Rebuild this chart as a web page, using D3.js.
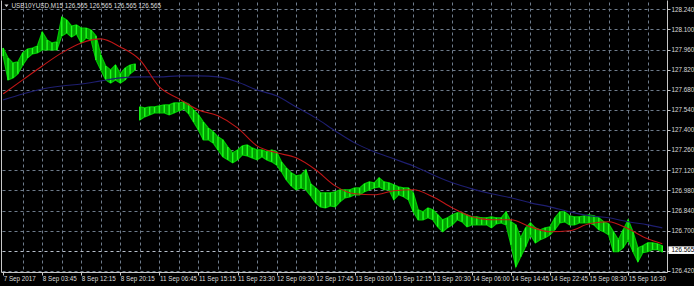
<!DOCTYPE html>
<html>
<head>
<meta charset="utf-8">
<script src="https://cdn.jsdelivr.net/npm/d3@7"></script>
<style>
    html, body { margin: 0; padding: 0; background: #000; }
    svg { display: block; }
    text { font-family: 'Liberation Sans', Arial, sans-serif; }
</style>
</head>
<body>
<div class="graph"></div>
<script>
var symbol = 'USB10YUSD,M15';
var lastPrice = 126.565;

var timeLabels = ['7 Sep 2017', '8 Sep 03:45', '8 Sep 12:15', '8 Sep 20:15', '11 Sep 06:45',
    '11 Sep 15:15', '11 Sep 23:30', '12 Sep 09:30', '12 Sep 17:45', '13 Sep 03:00',
    '13 Sep 12:15', '13 Sep 20:30', '14 Sep 06:00', '14 Sep 14:45', '14 Sep 22:45',
    '15 Sep 08:30', '15 Sep 16:30'];

var priceTicks = [128.240, 128.100, 127.960, 127.820, 127.680, 127.540, 127.400,
    127.260, 127.120, 126.980, 126.840, 126.700, 126.560, 126.420];

// bar highs / lows (one bar every ~4.9px on screen)
var highs = [127.971, 127.902, 127.867, 127.874, 127.937, 127.964, 127.971, 127.985, 128.083, 128.027,
    128.006, 128.013, 128.187, 128.166, 128.124, 128.131, 128.110, 128.110, 128.096, 128.055,
    127.923, 127.846, 127.818, 127.853, 127.791, 127.832, 127.853, 127.860, 127.561, 127.554,
    127.561, 127.561, 127.568, 127.575, 127.575, 127.589, 127.589, 127.596, 127.582, 127.540,
    127.506, 127.457, 127.415, 127.388, 127.353, 127.332, 127.283, 127.242, 127.262, 127.290,
    127.297, 127.276, 127.262, 127.262, 127.249, 127.262, 127.249, 127.179, 127.137, 127.103,
    127.082, 127.089, 127.124, 127.026, 126.998, 126.964, 126.964, 126.964, 126.971, 126.985,
    126.985, 126.985, 126.998, 126.998, 127.026, 127.040, 127.033, 127.068, 127.040, 127.033,
    127.019, 127.005, 126.998, 126.998, 126.964, 126.846, 126.832, 126.859, 126.846, 126.811,
    126.776, 126.790, 126.811, 126.825, 126.825, 126.811, 126.797, 126.797, 126.790, 126.790,
    126.797, 126.790, 126.790, 126.832, 126.762, 126.741, 126.651, 126.720, 126.755, 126.720,
    126.707, 126.720, 126.727, 126.790, 126.832, 126.832, 126.804, 126.797, 126.797, 126.804,
    126.811, 126.804, 126.790, 126.762, 126.748, 126.693, 126.637, 126.707, 126.776, 126.693,
    126.582, 126.595, 126.616, 126.616, 126.609, 126.595];

var lows = [127.916, 127.749, 127.763, 127.791, 127.853, 127.902, 127.930, 127.937, 127.957, 127.957,
    127.957, 127.957, 128.055, 128.076, 128.048, 128.069, 128.006, 128.041, 128.027, 127.888,
    127.818, 127.749, 127.728, 127.749, 127.728, 127.749, 127.791, 127.818, 127.471, 127.492,
    127.506, 127.520, 127.520, 127.520, 127.506, 127.520, 127.534, 127.547, 127.513, 127.457,
    127.401, 127.332, 127.332, 127.311, 127.262, 127.214, 127.193, 127.172, 127.193, 127.228,
    127.221, 127.207, 127.193, 127.214, 127.193, 127.179, 127.158, 127.110, 127.054, 127.012,
    126.985, 126.998, 126.985, 126.943, 126.894, 126.866, 126.859, 126.873, 126.866, 126.901,
    126.929, 126.936, 126.950, 126.950, 126.971, 126.985, 126.998, 127.005, 126.985, 126.985,
    126.915, 126.950, 126.936, 126.915, 126.832, 126.776, 126.776, 126.790, 126.776, 126.727,
    126.693, 126.720, 126.741, 126.776, 126.762, 126.727, 126.741, 126.741, 126.741, 126.741,
    126.720, 126.748, 126.755, 126.741, 126.602, 126.449, 126.519, 126.589, 126.672, 126.616,
    126.637, 126.651, 126.672, 126.707, 126.755, 126.762, 126.741, 126.741, 126.755, 126.755,
    126.755, 126.741, 126.707, 126.693, 126.672, 126.554, 126.554, 126.582, 126.637, 126.554,
    126.484, 126.547, 126.554, 126.568, 126.568, 126.554];

// first bar after the weekend price gap
var sessionBreaks = [28];

// moving averages, read at these bar numbers
var maBars = [0, 4, 8, 12, 16, 20, 24, 28, 32, 36, 40, 44, 48, 52, 56, 60, 64, 68,
    72, 76, 80, 84, 88, 92, 96, 100, 104, 108, 112, 116, 120, 124, 128, 132, 135];

var maFast = [127.652, 127.749, 127.846, 127.937, 128.006, 128.034, 127.978, 127.888, 127.700, 127.617,
    127.540, 127.499, 127.415, 127.290, 127.242, 127.207, 127.124, 127.012, 126.957, 126.950,
    126.978, 126.985, 126.936, 126.859, 126.797, 126.776, 126.776, 126.727, 126.693, 126.700,
    126.748, 126.762, 126.713, 126.644, 126.609];

var maSlow = [127.610, 127.651, 127.686, 127.707, 127.721, 127.742, 127.763, 127.770, 127.770, 127.777,
    127.777, 127.770, 127.735, 127.679, 127.638, 127.561, 127.485, 127.394, 127.311, 127.249,
    127.200, 127.151, 127.089, 127.033, 126.991, 126.957, 126.929, 126.894, 126.866, 126.832,
    126.804, 126.790, 126.762, 126.741, 126.720];

var width = 694;
var height = 286;
var plot = { left: 1.5, right: 667.5, top: 0.5, bottom: 272.5 };
var gridColor = '#6f7c8c';
var textColor = '#dcdcdc';
var fontSize = '6.3px';

var graph = d3.select('.graph')
    .append('svg')
    .attr('width', width)
    .attr('height', height);

graph.append('rect')
    .attr('width', width)
    .attr('height', height)
    .attr('fill', '#000');

graph.append('defs')
    .append('clipPath')
    .attr('id', 'plotclip')
    .append('rect')
    .attr('x', plot.left + 0.5)
    .attr('y', plot.top)
    .attr('width', plot.right - plot.left - 1)
    .attr('height', plot.bottom - plot.top - 0.5);

var x = d3.scaleLinear()
    .domain([0, 8 * (timeLabels.length - 1)])
    .range([3.17, 3.17 + 39.06 * (timeLabels.length - 1)]);

var y = d3.scaleLinear()
    .domain([126.420, 128.240])
    .range([271.0, 9.3]);

// grid
var vGrid = d3.range(4, 136, 4);

graph.append('g')
    .selectAll('line')
    .data(vGrid)
    .enter()
    .append('line')
    .attr('x1', function(d) { return Math.round(x(d)) + 0.5; })
    .attr('x2', function(d) { return Math.round(x(d)) + 0.5; })
    .attr('y1', plot.top + 2)
    .attr('y2', plot.bottom - 1)
    .attr('stroke', gridColor)
    .attr('stroke-width', 1)
    .attr('stroke-dasharray', '3,3');

graph.append('g')
    .selectAll('line')
    .data(priceTicks)
    .enter()
    .append('line')
    .attr('x1', plot.left + 1)
    .attr('x2', plot.right)
    .attr('y1', function(d) { return Math.round(y(d)) + 0.5; })
    .attr('y2', function(d) { return Math.round(y(d)) + 0.5; })
    .attr('stroke', function(d) { return d === 126.560 ? '#b8c0cc' : gridColor; })
    .attr('stroke-width', 1)
    .attr('stroke-dasharray', '3,3');

// bars
var bars = highs.map(function(h, i) {
    return { i: i, high: h, low: lows[i] };
});

var segments = [];
var start = 0;
sessionBreaks.concat([bars.length]).forEach(function(end) {
    segments.push(bars.slice(start, end));
    start = end;
});

var barLayer = graph.append('g')
    .attr('clip-path', 'url(#plotclip)');

var band = d3.area()
    .x(function(d) { return x(d.i); })
    .y0(function(d) { return y(d.low); })
    .y1(function(d) { return y(d.high); });

barLayer.selectAll('.band')
    .data(segments)
    .enter()
    .append('path')
    .attr('class', 'band')
    .attr('d', band)
    .attr('fill', '#00a000')
    .attr('stroke', '#00c800')
    .attr('stroke-width', 1.2);

barLayer.selectAll('.wick')
    .data(bars)
    .enter()
    .append('line')
    .attr('class', 'wick')
    .attr('x1', function(d) { return x(d.i); })
    .attr('x2', function(d) { return x(d.i); })
    .attr('y1', function(d) { return y(d.high); })
    .attr('y2', function(d) { return y(d.low); })
    .attr('stroke', '#1cff1c')
    .attr('stroke-width', 1.4);

// moving averages
function drawMa(values, color) {
    var line = d3.line()
        .x(function(d, i) { return x(maBars[i]); })
        .y(function(d) { return y(d); })
        .curve(d3.curveMonotoneX);

    barLayer.append('path')
        .datum(values)
        .attr('d', line)
        .attr('fill', 'none')
        .attr('stroke', color)
        .attr('stroke-width', 1.1);
}

drawMa(maSlow, '#1e1e70');
drawMa(maFast, '#c01616');

// borders
graph.append('path')
    .attr('d', 'M' + plot.left + ',' + plot.top + ' V' + plot.bottom + ' H' + plot.right + ' V' + plot.top)
    .attr('fill', 'none')
    .attr('stroke', '#c8c8c8')
    .attr('stroke-width', 1);

// price axis
var priceAxis = graph.append('g');

priceAxis.selectAll('line')
    .data(priceTicks)
    .enter()
    .append('line')
    .attr('x1', plot.right)
    .attr('x2', plot.right + 3)
    .attr('y1', function(d) { return Math.round(y(d)) + 0.5; })
    .attr('y2', function(d) { return Math.round(y(d)) + 0.5; })
    .attr('stroke', '#c8c8c8');

priceAxis.selectAll('text')
    .data(priceTicks.filter(function(d) { return d !== 126.560; }))
    .enter()
    .append('text')
    .attr('x', plot.right + 4)
    .attr('y', function(d) { return y(d); })
    .attr('dy', '0.35em')
    .attr('font-size', fontSize)
    .attr('fill', textColor)
    .text(function(d) { return d.toFixed(3); });

// last price label
priceAxis.append('rect')
    .attr('x', plot.right + 1)
    .attr('y', y(lastPrice) - 3.8)
    .attr('width', width - plot.right - 1)
    .attr('height', 7.6)
    .attr('fill', '#ffffff');

priceAxis.append('text')
    .attr('x', plot.right + 4)
    .attr('y', y(lastPrice))
    .attr('dy', '0.35em')
    .attr('font-size', fontSize)
    .attr('fill', '#000')
    .text(lastPrice.toFixed(3));

// time axis
var timeAxis = graph.append('g');

timeAxis.selectAll('line')
    .data(timeLabels)
    .enter()
    .append('line')
    .attr('x1', function(d, i) { return Math.round(x(i * 8)) + 0.5; })
    .attr('x2', function(d, i) { return Math.round(x(i * 8)) + 0.5; })
    .attr('y1', plot.bottom)
    .attr('y2', plot.bottom + 3)
    .attr('stroke', '#c8c8c8');

timeAxis.selectAll('text')
    .data(timeLabels)
    .enter()
    .append('text')
    .attr('x', function(d, i) { return x(i * 8) + 0.5; })
    .attr('y', 280.5)
    .attr('font-size', fontSize)
    .attr('fill', textColor)
    .text(function(d) { return d; });

// title
graph.append('path')
    .attr('d', 'M4.5,4.5 L8.5,4.5 L6.5,7 Z')
    .attr('fill', textColor);

graph.append('text')
    .attr('x', 11.5)
    .attr('y', 8)
    .attr('font-size', fontSize)
    .attr('fill', textColor)
    .text(symbol + ' ' + [lastPrice, lastPrice, lastPrice, lastPrice].map(function(p) { return p.toFixed(3); }).join(' '));
</script>
</body>
</html>
